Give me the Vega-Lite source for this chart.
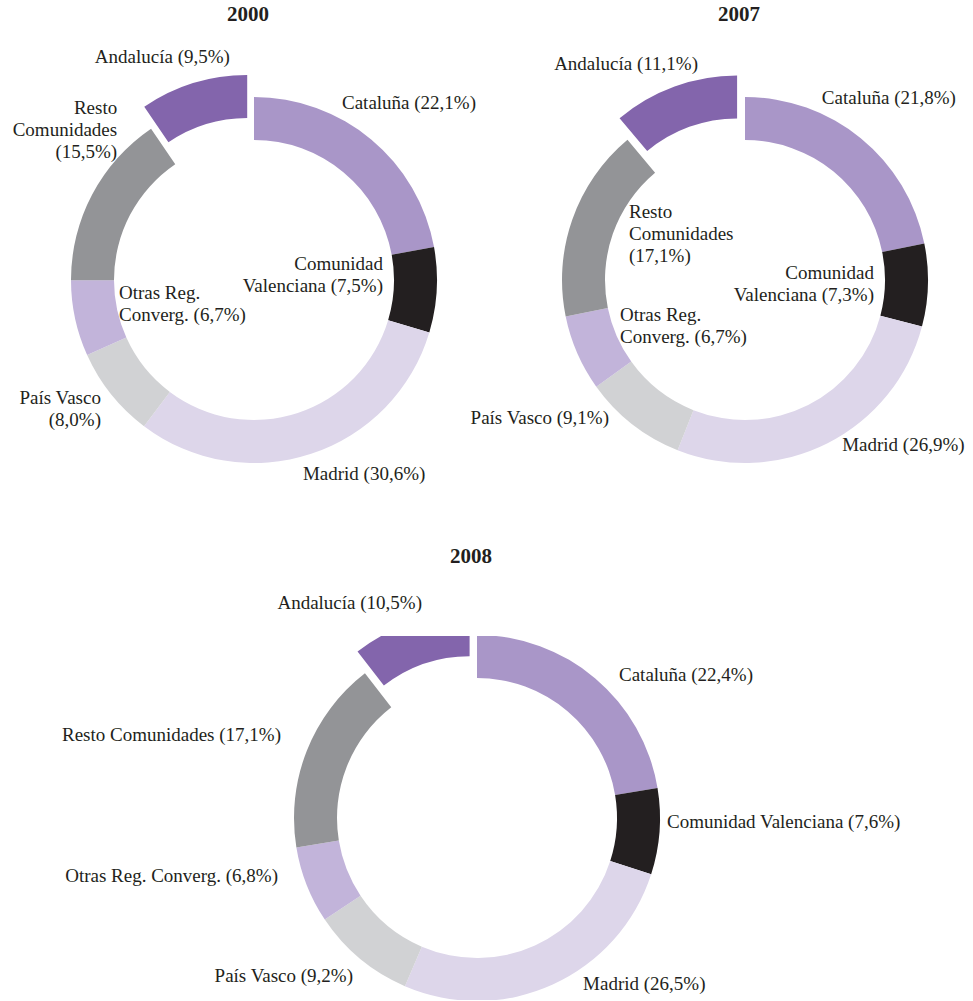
{
  "$schema": "https://vega.github.io/schema/vega-lite/v6.json",
  "background": "white",
  "padding": {"left": 10, "top": 3, "right": 0, "bottom": 0},
  "datasets": {
    "d": [
      {"year": "2000", "region": "Cataluña", "v": 22.1, "k": 1, "label": "Cataluña (22,1%)"},
      {"year": "2000", "region": "Comunidad Valenciana", "v": 7.5, "k": 2, "label": "Comunidad|Valenciana (7,5%)"},
      {"year": "2000", "region": "Madrid", "v": 30.6, "k": 3, "label": "Madrid (30,6%)"},
      {"year": "2000", "region": "País Vasco", "v": 8.0, "k": 4, "label": "País Vasco|(8,0%)"},
      {"year": "2000", "region": "Otras Reg. Converg.", "v": 6.7, "k": 5, "label": "Otras Reg.|Converg. (6,7%)"},
      {"year": "2000", "region": "Resto Comunidades", "v": 15.5, "k": 6, "label": "Resto|Comunidades|(15,5%)"},
      {"year": "2000", "region": "Andalucía", "v": 9.5, "k": 7, "label": "Andalucía (9,5%)"},
      {"year": "2007", "region": "Cataluña", "v": 21.8, "k": 1, "label": "Cataluña (21,8%)"},
      {"year": "2007", "region": "Comunidad Valenciana", "v": 7.3, "k": 2, "label": "Comunidad|Valenciana (7,3%)"},
      {"year": "2007", "region": "Madrid", "v": 26.9, "k": 3, "label": "Madrid (26,9%)"},
      {"year": "2007", "region": "País Vasco", "v": 9.1, "k": 4, "label": "País Vasco (9,1%)"},
      {"year": "2007", "region": "Otras Reg. Converg.", "v": 6.7, "k": 5, "label": "Otras Reg.|Converg. (6,7%)"},
      {"year": "2007", "region": "Resto Comunidades", "v": 17.1, "k": 6, "label": "Resto|Comunidades|(17,1%)"},
      {"year": "2007", "region": "Andalucía", "v": 11.1, "k": 7, "label": "Andalucía (11,1%)"},
      {"year": "2008", "region": "Cataluña", "v": 22.4, "k": 1, "label": "Cataluña (22,4%)"},
      {"year": "2008", "region": "Comunidad Valenciana", "v": 7.6, "k": 2, "label": "Comunidad Valenciana (7,6%)"},
      {"year": "2008", "region": "Madrid", "v": 26.5, "k": 3, "label": "Madrid (26,5%)"},
      {"year": "2008", "region": "País Vasco", "v": 9.2, "k": 4, "label": "País Vasco (9,2%)"},
      {"year": "2008", "region": "Otras Reg. Converg.", "v": 6.8, "k": 5, "label": "Otras Reg. Converg. (6,8%)"},
      {"year": "2008", "region": "Resto Comunidades", "v": 17.1, "k": 6, "label": "Resto Comunidades (17,1%)"},
      {"year": "2008", "region": "Andalucía", "v": 10.5, "k": 7, "label": "Andalucía (10,5%)"}
    ]
  },
  "data": {"name": "d"},
  "bounds": "full",
  "spacing": 29,
  "vconcat": [
    {
      "bounds": "flush",
      "spacing": 29,
      "hconcat": [
        {
          "title": {"text": "2000", "offset": 19.6, "dx": -6, "anchor": "middle", "font": "Liberation Serif", "fontSize": 21, "fontWeight": "bold", "color": "#231f20"},
          "width": 488, "height": 470,
          "transform": [{"filter": "datum.year === '2000'"}],
          "encoding": {
            "theta": {"field": "v", "type": "quantitative", "stack": true},
            "order": {"field": "k", "type": "quantitative"}
          },
          "layer": [
            {"mark": {"type": "arc", "outerRadius": 183, "innerRadius": 140},
             "encoding": {"color": {"field": "region", "type": "nominal", "legend": null, "scale": {"domain": ["Cataluña", "Comunidad Valenciana", "Madrid", "País Vasco", "Otras Reg. Converg.", "Resto Comunidades", "Andalucía"], "range": ["#a996c8", "#231f20", "#ddd6ea", "#d1d2d4", "#c2b4da", "#939497", "#8365ac"]}},
                          "opacity": {"condition": {"test": "datum.region === 'Andalucía'", "value": 0}, "value": 1}}},
            {"mark": {"type": "arc", "outerRadius": 183, "innerRadius": 140, "xOffset": -6.8, "yOffset": -22},
             "encoding": {"color": {"field": "region", "type": "nominal", "legend": null},
                          "opacity": {"condition": {"test": "datum.region === 'Andalucía'", "value": 1}, "value": 0}}},
            {"mark": {"type": "text", "align": "right", "radius": 223.8, "thetaOffset": 0.191},
             "encoding": {"text": {"field": "label", "type": "nominal", "condition": {"test": "datum.region !== 'Andalucía'", "value": ""}}}},
            {"mark": {"type": "text", "align": "center", "radius": 235.6, "thetaOffset": 0.023},
             "encoding": {"text": {"field": "label", "type": "nominal", "condition": {"test": "datum.region !== 'Cataluña'", "value": ""}}}},
            {"mark": {"type": "text", "align": "right", "radius": 130.05, "thetaOffset": -0.182},
             "encoding": {"text": {"field": "label", "type": "nominal", "condition": {"test": "datum.region !== 'Comunidad Valenciana'", "value": ""}}}},
            {"mark": {"type": "text", "align": "left", "radius": 199.6, "thetaOffset": 0.07},
             "encoding": {"text": {"field": "label", "type": "nominal", "condition": {"test": "datum.region !== 'Madrid'", "value": ""}}}},
            {"mark": {"type": "text", "align": "right", "radius": 193.5, "thetaOffset": 0.016},
             "encoding": {"text": {"field": "label", "type": "nominal", "condition": {"test": "datum.region !== 'País Vasco'", "value": ""}}}},
            {"mark": {"type": "text", "align": "left", "radius": 135.7, "thetaOffset": 0.113},
             "encoding": {"text": {"field": "label", "type": "nominal", "condition": {"test": "datum.region !== 'Otras Reg. Converg.'", "value": ""}}}},
            {"mark": {"type": "text", "align": "right", "radius": 219.5, "thetaOffset": 0.412},
             "encoding": {"text": {"field": "label", "type": "nominal", "condition": {"test": "datum.region !== 'Resto Comunidades'", "value": ""}}}}
          ]
        },
        {
          "title": {"text": "2007", "offset": 19.6, "dx": -6, "anchor": "middle", "font": "Liberation Serif", "fontSize": 21, "fontWeight": "bold", "color": "#231f20"},
          "width": 436, "height": 470,
          "transform": [{"filter": "datum.year === '2007'"}],
          "encoding": {
            "theta": {"field": "v", "type": "quantitative", "stack": true},
            "order": {"field": "k", "type": "quantitative"}
          },
          "layer": [
            {"mark": {"type": "arc", "outerRadius": 183, "innerRadius": 140},
             "encoding": {"color": {"field": "region", "type": "nominal", "legend": null, "scale": {"domain": ["Cataluña", "Comunidad Valenciana", "Madrid", "País Vasco", "Otras Reg. Converg.", "Resto Comunidades", "Andalucía"], "range": ["#a996c8", "#231f20", "#ddd6ea", "#d1d2d4", "#c2b4da", "#939497", "#8365ac"]}},
                          "opacity": {"condition": {"test": "datum.region === 'Andalucía'", "value": 0}, "value": 1}}},
            {"mark": {"type": "arc", "outerRadius": 183, "innerRadius": 140, "xOffset": -7.9, "yOffset": -21.6},
             "encoding": {"color": {"field": "region", "type": "nominal", "legend": null},
                          "opacity": {"condition": {"test": "datum.region === 'Andalucía'", "value": 1}, "value": 0}}},
            {"mark": {"type": "text", "align": "right", "radius": 220.6, "thetaOffset": 0.134},
             "encoding": {"text": {"field": "label", "type": "nominal", "condition": {"test": "datum.region !== 'Andalucía'", "value": ""}}}},
            {"mark": {"type": "text", "align": "center", "radius": 231.7, "thetaOffset": -0.015},
             "encoding": {"text": {"field": "label", "type": "nominal", "condition": {"test": "datum.region !== 'Cataluña'", "value": ""}}}},
            {"mark": {"type": "text", "align": "right", "radius": 129.2, "thetaOffset": -0.086},
             "encoding": {"text": {"field": "label", "type": "nominal", "condition": {"test": "datum.region !== 'Comunidad Valenciana'", "value": ""}}}},
            {"mark": {"type": "text", "align": "left", "radius": 191.8, "thetaOffset": -0.063},
             "encoding": {"text": {"field": "label", "type": "nominal", "condition": {"test": "datum.region !== 'Madrid'", "value": ""}}}},
            {"mark": {"type": "text", "align": "right", "radius": 193.4, "thetaOffset": 0.117},
             "encoding": {"text": {"field": "label", "type": "nominal", "condition": {"test": "datum.region !== 'País Vasco'", "value": ""}}}},
            {"mark": {"type": "text", "align": "left", "radius": 129.7, "thetaOffset": 0.142},
             "encoding": {"text": {"field": "label", "type": "nominal", "condition": {"test": "datum.region !== 'Otras Reg. Converg.'", "value": ""}}}},
            {"mark": {"type": "text", "align": "left", "radius": 134.2, "thetaOffset": 0.191},
             "encoding": {"text": {"field": "label", "type": "nominal", "condition": {"test": "datum.region !== 'Resto Comunidades'", "value": ""}}}}
          ]
        }
      ]
    },
    {
      "title": {"text": "2008", "offset": 27.5, "dx": -6, "anchor": "middle", "font": "Liberation Serif", "fontSize": 21, "fontWeight": "bold", "color": "#231f20"},
      "width": 934, "height": 364,
      "transform": [{"filter": "datum.year === '2008'"}],
      "encoding": {
        "theta": {"field": "v", "type": "quantitative", "stack": true},
        "order": {"field": "k", "type": "quantitative"}
      },
      "layer": [
        {"mark": {"type": "arc", "outerRadius": 183, "innerRadius": 140, "clip": true},
         "encoding": {"color": {"field": "region", "type": "nominal", "legend": null, "scale": {"domain": ["Cataluña", "Comunidad Valenciana", "Madrid", "País Vasco", "Otras Reg. Converg.", "Resto Comunidades", "Andalucía"], "range": ["#a996c8", "#231f20", "#ddd6ea", "#d1d2d4", "#c2b4da", "#939497", "#8365ac"]}},
                      "opacity": {"condition": {"test": "datum.region === 'Andalucía'", "value": 0}, "value": 1}}},
        {"mark": {"type": "arc", "outerRadius": 183, "innerRadius": 140, "xOffset": -7.4, "yOffset": -21.8, "clip": true},
         "encoding": {"color": {"field": "region", "type": "nominal", "legend": null},
                      "opacity": {"condition": {"test": "datum.region === 'Andalucía'", "value": 1}, "value": 0}}},
        {"mark": {"type": "text", "align": "right", "radius": 221.9, "thetaOffset": 0.079},
         "encoding": {"text": {"field": "label", "type": "nominal", "condition": {"test": "datum.region !== 'Andalucía'", "value": ""}}}},
        {"mark": {"type": "text", "align": "left", "radius": 201.5, "thetaOffset": 0.079},
         "encoding": {"text": {"field": "label", "type": "nominal", "condition": {"test": "datum.region !== 'Cataluña'", "value": ""}}}},
        {"mark": {"type": "text", "align": "left", "radius": 190, "thetaOffset": -0.053},
         "encoding": {"text": {"field": "label", "type": "nominal", "condition": {"test": "datum.region !== 'Comunidad Valenciana'", "value": ""}}}},
        {"mark": {"type": "text", "align": "left", "radius": 197, "thetaOffset": -0.142},
         "encoding": {"text": {"field": "label", "type": "nominal", "condition": {"test": "datum.region !== 'Madrid'", "value": ""}}}},
        {"mark": {"type": "text", "align": "right", "radius": 200.8, "thetaOffset": -0.028},
         "encoding": {"text": {"field": "label", "type": "nominal", "condition": {"test": "datum.region !== 'País Vasco'", "value": ""}}}},
        {"mark": {"type": "text", "align": "right", "radius": 207.3, "thetaOffset": 0.091},
         "encoding": {"text": {"field": "label", "type": "nominal", "condition": {"test": "datum.region !== 'Otras Reg. Converg.'", "value": ""}}}},
        {"mark": {"type": "text", "align": "right", "radius": 212.9, "thetaOffset": 0.026},
         "encoding": {"text": {"field": "label", "type": "nominal", "condition": {"test": "datum.region !== 'Resto Comunidades'", "value": ""}}}}
      ]
    }
  ],
  "config": {
    "view": {"stroke": null},
    "text": {"font": "Liberation Serif", "fontSize": 19, "color": "#231f20", "baseline": "middle", "lineBreak": "|", "lineHeight": 22}
  }
}
